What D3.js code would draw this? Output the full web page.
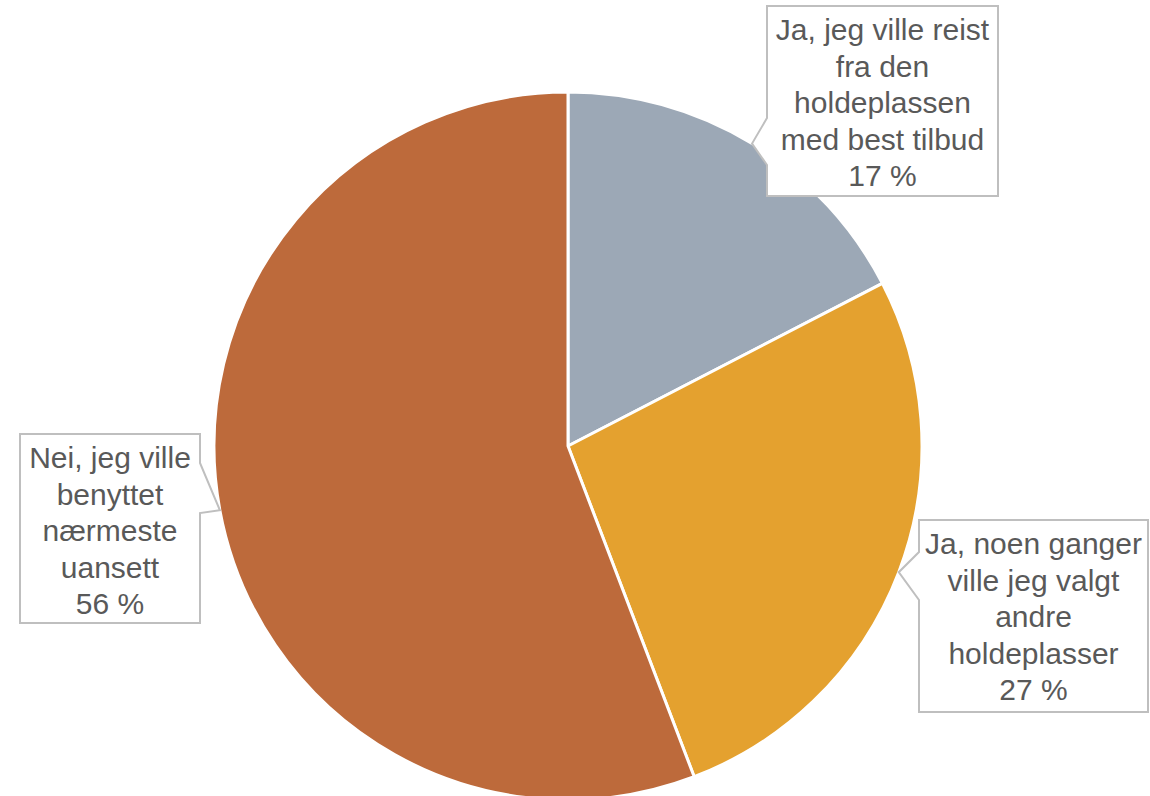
<!DOCTYPE html>
<html lang="no">
<head>
  <meta charset="UTF-8" />
  <title>Holdeplass-valg</title>
  <script src="https://d3js.org/d3.v7.min.js"></script>
  <style>
    body { margin: 0; background: #fff; }
    svg { display: block; }
    .label text {
      font-family: "Liberation Sans", Arial, sans-serif;
      font-size: 30px;
      fill: #595959;
      text-anchor: middle;
    }
    .label path {
      fill: #fff;
      stroke: #bfbfbf;
      stroke-width: 2px;
    }
  </style>
</head>
<body>
  <svg width="1150" height="796"></svg>

  <script>
    // data
    const categories = [
      "Ja, jeg ville reist fra den holdeplassen med best tilbud",
      "Ja, noen ganger ville jeg valgt andre holdeplasser",
      "Nei, jeg ville benyttet nærmeste uansett"
    ];
    const values = [17.4, 26.8, 55.8];
    const labelLines = [
      ["Ja, jeg ville reist", "fra den", "holdeplassen", "med best tilbud"],
      ["Ja, noen ganger", "ville jeg valgt", "andre", "holdeplasser"],
      ["Nei, jeg ville", "benyttet", "nærmeste", "uansett"]
    ];
    const colors = ["#9ca8b6", "#e4a12f", "#bd6a3b"];

    // callout boxes (layout only)
    const boxes = [
      { x: 767, y: 6,   w: 231, h: 190, side: "left",  b0: 118, b1: 165 },
      { x: 919, y: 520, w: 229, h: 192, side: "left",  b0: 552, b1: 600 },
      { x: 20,  y: 434, w: 180, h: 189, side: "right", b0: 463, b1: 513 }
    ];

    const cx = 568, cy = 446, r = 354;
    const svg = d3.select("svg");

    const pie = d3.pie().sort(null).value(d => d)(values);
    const arc = d3.arc().innerRadius(0).outerRadius(r);
    const edge = d3.arc().innerRadius(r).outerRadius(r);

    const g = svg.append("g").attr("transform", `translate(${cx},${cy})`);

    g.selectAll("path")
      .data(pie)
      .join("path")
      .attr("d", arc)
      .attr("fill", (d, i) => colors[i])
      .attr("stroke", "#fff")
      .attr("stroke-width", 3)
      .attr("stroke-linejoin", "round");

    // labels with callout pointers
    const label = svg.append("g")
      .selectAll("g")
      .data(pie)
      .join("g")
      .attr("class", "label");

    label.append("path")
      .attr("d", (d, i) => {
        const b = boxes[i];
        const c = edge.centroid(d);
        const tx = cx + c[0], ty = cy + c[1];
        const x0 = b.x, x1 = b.x + b.w, y0 = b.y, y1 = b.y + b.h;
        if (b.side === "left") {
          return `M${x0},${y0}H${x1}V${y1}H${x0}V${b.b1}L${tx},${ty}L${x0},${b.b0}Z`;
        }
        return `M${x0},${y0}H${x1}V${b.b0}L${tx},${ty}L${x1},${b.b1}V${y1}H${x0}Z`;
      });

    label.each(function(d, i) {
      const b = boxes[i];
      const lines = labelLines[i].concat([Math.round(values[i]) + " %"]);
      d3.select(this).selectAll("text")
        .data(lines)
        .join("text")
        .attr("x", b.x + b.w / 2)
        .attr("y", (t, k) => b.y + 34 + k * 36.5)
        .text(t => t);
    });
  </script>
</body>
</html>
